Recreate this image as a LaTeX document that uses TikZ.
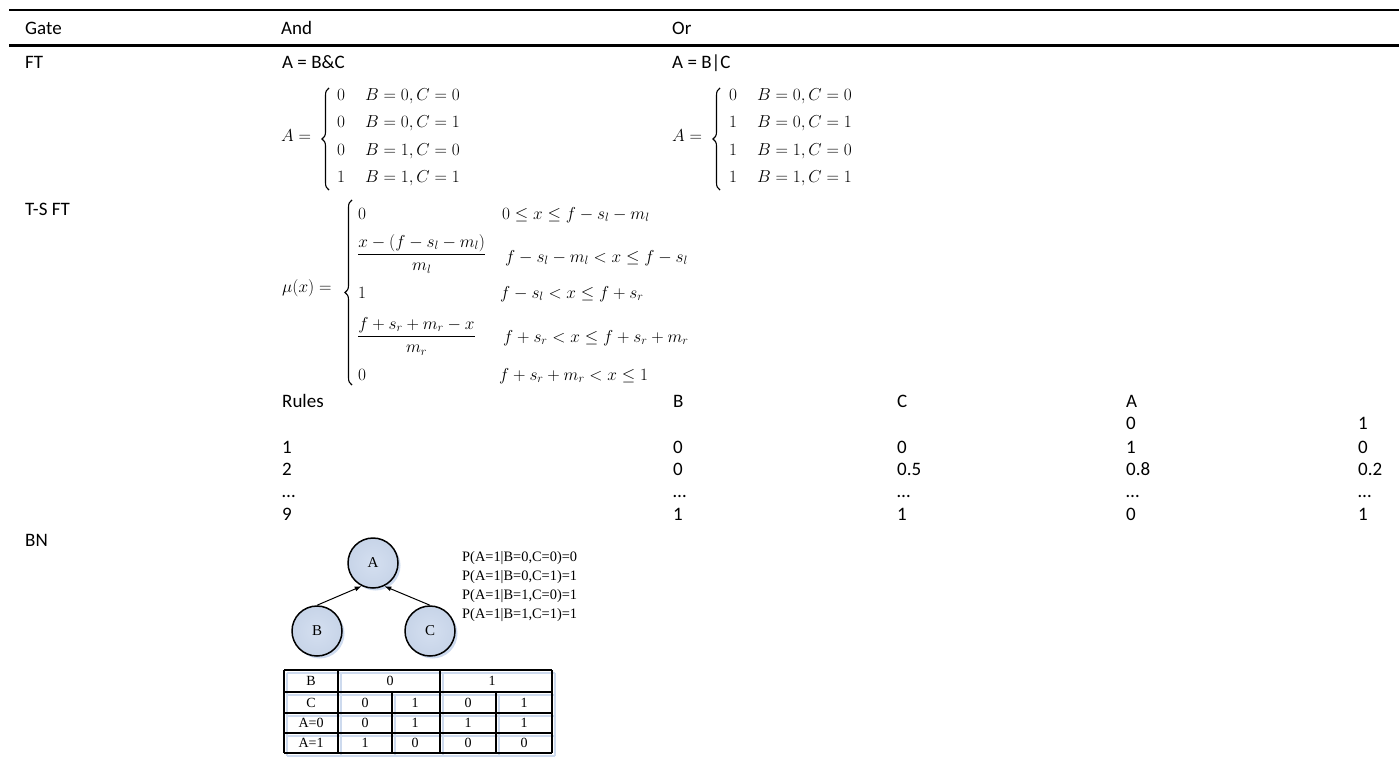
\documentclass[tikz,border=0pt]{standalone}
\usepackage{amsmath}
\usepackage{fontspec}
\setmainfont{Carlito}
\newfontfamily\tnr{Liberation Serif}
\usetikzlibrary{arrows.meta,shadows,decorations.pathreplacing}
\definecolor{bnfill}{RGB}{199,212,232}
\definecolor{bninner}{RGB}{212,223,240}
\definecolor{shadowblue}{RGB}{205,218,238}
\tikzset{
 txt/.style={anchor=base west, inner sep=0pt, font=\fontsize{19}{22}\selectfont},
 mth/.style={anchor=base west, inner sep=0pt, font=\fontsize{17}{20}\selectfont},
 casebrace/.style={decorate, decoration={brace, amplitude=7pt, aspect=0.5}, line width=1.1pt},
 bnode/.style={circle, draw, line width=1.5pt, minimum size=50pt, inner sep=0pt,
   inner color=bninner, outer color=bnfill,
   font=\tnr\fontsize{15}{17}\selectfont,
   drop shadow={shadow xshift=2.5pt, shadow yshift=-2.5pt, fill=shadowblue, opacity=1}},
 ptxt/.style={anchor=base west, inner sep=0pt, font=\tnr\fontsize{14.4}{17}\selectfont},
 cell/.style={inner sep=0pt, font=\tnr\fontsize{14}{16}\selectfont},
 toprule/.style={line width=2.4pt},
 gridline/.style={line width=1.6pt},
 gridshadow/.style={line width=1.6pt, draw=shadowblue},
 arr/.style={-{Latex[length=7pt,width=5pt]}, line width=1pt}
}
\begin{document}
\begin{tikzpicture}[x=1pt, y=-1pt]
\useasboundingbox (0,0) rectangle (1399,773);
% rules
\draw[toprule] (9,10) -- (1399,10);
\draw[toprule] (9,45.5) -- (1399,45.5);
% header
\node[txt] (hgate) at (25,35) {Gate};
\node[txt] (hand) at (281,35) {And};
\node[txt] (hor) at (672,35) {Or};
% FT
\node[txt] (ft) at (25,69) {FT};
\node[txt] (andeq) at (282,69) {A = B\&C};
\node[txt] (oreq) at (672,69) {A = B|C};
% And cases
\node[mth] (andA) at (281,142) {$A =$};
\draw[casebrace] (329,190) -- (329,88);
\node[mth] (andr1) at (337,101) {$0\hspace{20pt}B = 0, C = 0$};
\node[mth] (andr2) at (337,128) {$0\hspace{20pt}B = 0, C = 1$};
\node[mth] (andr3) at (337,155) {$0\hspace{20pt}B = 1, C = 0$};
\node[mth] (andr4) at (337,182) {$1\hspace{20pt}B = 1, C = 1$};
% Or cases
\node[mth] (orA) at (672,142) {$A =$};
\draw[casebrace] (720,190) -- (720,88);
\node[mth] (orr1) at (729,101) {$0\hspace{20pt}B = 0, C = 0$};
\node[mth] (orr2) at (729,128) {$1\hspace{20pt}B = 0, C = 1$};
\node[mth] (orr3) at (729,155) {$1\hspace{20pt}B = 1, C = 0$};
\node[mth] (orr4) at (729,182) {$1\hspace{20pt}B = 1, C = 1$};
% T-S FT
\node[txt] (tsft) at (25,215) {T-S FT};
\node[mth] (mu) at (282,292) {$\mu(x) =$};
\draw[casebrace] (352,385) -- (352,200);
\node[mth] (m1a) at (358,219) {$0$};
\node[mth] (m1b) at (502,219) {$0 \le x \le f - s_l - m_l$};
\node[mth] (m2a) at (357,259) {$\dfrac{x-(f-s_l-m_l)}{m_l}$};
\node[mth] (m2b) at (505,262) {$f - s_l - m_l < x \le f - s_l$};
\node[mth] (m3a) at (358,298) {$1$};
\node[mth] (m3b) at (500,298) {$f - s_l < x \le f + s_r$};
\node[mth] (m4a) at (357,341) {$\dfrac{f+s_r+m_r-x}{m_r}$};
\node[mth] (m4b) at (503,342) {$f + s_r < x \le f + s_r + m_r$};
\node[mth] (m5a) at (358,380) {$0$};
\node[mth] (m5b) at (499,380) {$f + s_r + m_r < x \le 1$};
% Rules table
\node[txt] (rh1) at (282,407) {Rules};
\node[txt] (rh2) at (673,407) {B};
\node[txt] (rh3) at (897,407) {C};
\node[txt] (rh4) at (1126,407) {A};
\node[txt] (rs4) at (1126,429) {0};
\node[txt] (rs5) at (1358,429) {1};
\node[txt] (r11) at (282,453) {1};
\node[txt] (r12) at (673,453) {0};
\node[txt] (r13) at (897,453) {0};
\node[txt] (r14) at (1126,453) {1};
\node[txt] (r15) at (1358,453) {0};
\node[txt] (r21) at (282,475) {2};
\node[txt] (r22) at (673,475) {0};
\node[txt] (r23) at (897,475) {0.5};
\node[txt] (r24) at (1126,475) {0.8};
\node[txt] (r25) at (1358,475) {0.2};
\node[txt] (r31) at (282,497) {…};
\node[txt] (r32) at (673,497) {…};
\node[txt] (r33) at (897,497) {…};
\node[txt] (r34) at (1126,497) {…};
\node[txt] (r35) at (1358,497) {…};
\node[txt] (r41) at (282,520) {9};
\node[txt] (r42) at (673,520) {1};
\node[txt] (r43) at (897,520) {1};
\node[txt] (r44) at (1126,520) {0};
\node[txt] (r45) at (1358,520) {1};
% BN
\node[txt] (bn) at (25,546) {BN};
\node[bnode] (A) at (373,563) {A};
\node[bnode] (B) at (317,631) {B};
\node[bnode] (C) at (430,631) {C};
\draw[arr] (B.90) -- (A.-116);
\draw[arr] (C.90) -- (A.-64);
\node[ptxt] (p1) at (462,561) {P(A=1|B=0,C=0)=0};
\node[ptxt] (p2) at (462,580) {P(A=1|B=0,C=1)=1};
\node[ptxt] (p3) at (462,599) {P(A=1|B=1,C=0)=1};
\node[ptxt] (p4) at (462,618) {P(A=1|B=1,C=1)=1};
% CPT grid
\begin{scope}[shift={(3,3)}]
\foreach \yy in {670,692,713,733,753} \draw[gridshadow] (284,\yy) -- (552,\yy);
\foreach \xx in {284,338,440,552} \draw[gridshadow] (\xx,670) -- (\xx,753);
\foreach \xx in {392,496} \draw[gridshadow] (\xx,692) -- (\xx,753);
\end{scope}
\foreach \yy in {670,692,713,733,753} \draw[gridline] (284,\yy) -- (552,\yy);
\foreach \xx in {284,338,440,552} \draw[gridline] (\xx,670) -- (\xx,753);
\foreach \xx in {392,496} \draw[gridline] (\xx,692) -- (\xx,753);
\node[cell] (t11) at (311,681) {B};
\node[cell] (t12) at (390,681) {0};
\node[cell] (t13) at (492,681) {1};
\node[cell] (t21) at (311,702.5) {C};
\node[cell] (t22) at (365,702.5) {0};
\node[cell] (t23) at (415,702.5) {1};
\node[cell] (t24) at (468,702.5) {0};
\node[cell] (t25) at (524,702.5) {1};
\node[cell] (t31) at (311,723) {A=0};
\node[cell] (t32) at (365,723) {0};
\node[cell] (t33) at (415,723) {1};
\node[cell] (t34) at (468,723) {1};
\node[cell] (t35) at (524,723) {1};
\node[cell] (t41) at (311,743) {A=1};
\node[cell] (t42) at (365,743) {1};
\node[cell] (t43) at (415,743) {0};
\node[cell] (t44) at (468,743) {0};
\node[cell] (t45) at (524,743) {0};
\end{tikzpicture}
\end{document}
